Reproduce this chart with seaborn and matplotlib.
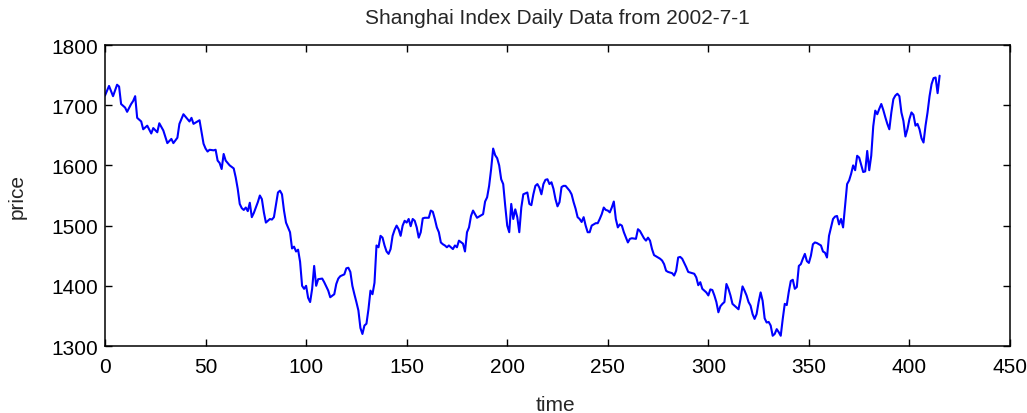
import matplotlib
matplotlib.use("Agg")
import matplotlib.pyplot as plt
import seaborn as sns
import pandas as pd

title = "Shanghai Index Daily Data from 2002-7-1"
x_label = "time"
y_label = "price"
x_ticks = [0, 50, 100, 150, 200, 250, 300, 350, 400, 450]
y_ticks = [1300, 1400, 1500, 1600, 1700, 1800]

days = [0, 2, 4, 6, 7, 8, 10, 11, 13, 14, 15, 16, 18, 19, 21, 23, 24, 26, 27, 29,
        31, 33, 34, 36, 37, 39, 40, 42, 43, 44, 46, 47, 48, 49, 50, 51, 52, 54, 55, 56,
        57, 58, 59, 60, 62, 64, 65, 66, 67, 68, 69, 70, 71, 72, 73, 74, 76, 77, 78, 79,
        80, 82, 83, 84, 86, 87, 88, 89, 90, 92, 93, 94, 95, 96, 97, 98, 99, 100, 101, 102,
        103, 104, 105, 106, 108, 109, 111, 112, 114, 115, 116, 117, 119, 120, 121, 122, 123, 124, 125, 126,
        127, 128, 129, 130, 131, 132, 133, 134, 135, 136, 137, 138, 139, 140, 141, 142, 143, 144, 145, 146,
        147, 148, 149, 150, 151, 152, 153, 154, 155, 156, 157, 158, 159, 161, 162, 163, 164, 165, 166, 167,
        168, 169, 170, 171, 173, 174, 175, 176, 178, 179, 180, 181, 182, 183, 184, 185, 187, 188, 189, 190,
        191, 192, 193, 194, 195, 196, 197, 198, 199, 200, 201, 202, 203, 204, 205, 206, 207, 208, 210, 211,
        212, 213, 214, 215, 216, 217, 218, 219, 220, 221, 222, 223, 224, 225, 226, 227, 228, 229, 231, 232,
        233, 234, 235, 236, 237, 238, 239, 240, 241, 242, 244, 245, 246, 247, 248, 249, 250, 251, 252, 253,
        254, 255, 256, 257, 258, 260, 261, 262, 264, 265, 266, 268, 269, 270, 271, 272, 273, 275, 276, 277,
        278, 279, 280, 282, 283, 284, 285, 286, 287, 289, 290, 291, 293, 294, 295, 296, 297, 298, 299, 300,
        301, 302, 303, 304, 305, 306, 307, 308, 309, 310, 311, 312, 313, 315, 316, 317, 318, 319, 320, 321,
        322, 323, 324, 325, 326, 327, 328, 329, 330, 331, 332, 333, 334, 335, 336, 337, 338, 339, 340, 341,
        342, 343, 344, 345, 346, 347, 348, 349, 350, 351, 352, 353, 354, 356, 357, 358, 359, 360, 361, 362,
        363, 364, 365, 366, 367, 368, 369, 370, 371, 372, 373, 374, 375, 376, 377, 378, 379, 380, 381, 382,
        383, 384, 385, 386, 387, 388, 389, 390, 391, 392, 393, 394, 395, 396, 397, 398, 399, 400, 401, 402,
        403, 404, 405, 406, 407, 408, 409, 410, 411, 412, 413, 414, 415]

prices = [1716, 1732, 1715, 1734, 1731, 1702, 1696, 1689, 1702, 1707, 1715, 1679, 1673, 1660, 1666, 1653, 1662, 1655, 1670, 1658,
          1637, 1644, 1637, 1646, 1669, 1685, 1681, 1673, 1679, 1669, 1673, 1675, 1655, 1636, 1628, 1623, 1626, 1625, 1626, 1608,
          1604, 1594, 1619, 1608, 1600, 1595, 1580, 1561, 1536, 1529, 1526, 1530, 1524, 1538, 1514, 1521, 1539, 1550, 1544, 1522,
          1505, 1511, 1510, 1514, 1555, 1558, 1552, 1525, 1505, 1489, 1462, 1465, 1457, 1460, 1440, 1400, 1395, 1400, 1380, 1373,
          1395, 1433, 1400, 1411, 1412, 1406, 1392, 1381, 1386, 1403, 1412, 1416, 1419, 1429, 1430, 1423, 1400, 1386, 1373, 1359,
          1330, 1320, 1334, 1337, 1361, 1392, 1386, 1405, 1467, 1464, 1483, 1480, 1467, 1457, 1453, 1461, 1483, 1493, 1500, 1494,
          1483, 1500, 1508, 1505, 1511, 1499, 1511, 1508, 1497, 1480, 1489, 1512, 1513, 1513, 1525, 1523, 1511, 1497, 1489, 1472,
          1469, 1467, 1464, 1467, 1461, 1467, 1464, 1475, 1470, 1457, 1489, 1497, 1516, 1525, 1519, 1513, 1517, 1519, 1540, 1547,
          1566, 1594, 1628, 1617, 1612, 1600, 1577, 1569, 1533, 1500, 1489, 1536, 1511, 1527, 1514, 1489, 1530, 1552, 1555, 1536,
          1534, 1552, 1566, 1569, 1563, 1552, 1569, 1576, 1577, 1569, 1572, 1561, 1544, 1532, 1539, 1564, 1566, 1566, 1558, 1552,
          1539, 1528, 1514, 1511, 1506, 1514, 1500, 1489, 1489, 1500, 1504, 1504, 1511, 1519, 1530, 1526, 1525, 1522, 1530, 1540,
          1511, 1497, 1502, 1500, 1489, 1472, 1478, 1479, 1478, 1494, 1491, 1479, 1475, 1480, 1475, 1461, 1451, 1447, 1445, 1442,
          1436, 1425, 1423, 1421, 1417, 1425, 1447, 1448, 1445, 1431, 1423, 1422, 1420, 1414, 1401, 1406, 1395, 1392, 1389, 1384,
          1394, 1393, 1384, 1373, 1356, 1366, 1370, 1373, 1403, 1395, 1384, 1370, 1367, 1361, 1378, 1399, 1392, 1384, 1373, 1367,
          1353, 1345, 1353, 1373, 1389, 1375, 1346, 1339, 1340, 1334, 1317, 1320, 1328, 1323, 1317, 1345, 1370, 1368, 1390, 1408,
          1410, 1395, 1398, 1433, 1436, 1445, 1453, 1441, 1438, 1450, 1469, 1472, 1471, 1467, 1457, 1455, 1447, 1483, 1497, 1511,
          1515, 1516, 1502, 1511, 1497, 1533, 1569, 1575, 1586, 1600, 1592, 1616, 1613, 1601, 1589, 1590, 1624, 1592, 1616, 1665,
          1691, 1685, 1694, 1702, 1692, 1680, 1669, 1660, 1688, 1710, 1716, 1719, 1715, 1688, 1674, 1648, 1660, 1677, 1688, 1684,
          1666, 1669, 1660, 1645, 1638, 1666, 1688, 1715, 1735, 1745, 1746, 1720, 1749]

df = pd.DataFrame({"time": days, "price": prices})

sns.set_style("ticks")
plt.rcParams["font.family"] = ["Liberation Sans", "DejaVu Sans"]
plt.rcParams["font.size"] = 15

fig = plt.figure(figsize=(10.27, 4.14), dpi=100)
ax = fig.add_axes([105 / 1027, (414 - 347) / 414, (1010 - 105) / 1027, (347 - 46) / 414])

sns.lineplot(data=df, x="time", y="price", ax=ax, color="#0000FF", linewidth=1.5)

ax.set_xlim(0, 450)
ax.set_ylim(1300, 1800)
ax.set_xticks(x_ticks)
ax.set_yticks(y_ticks)
ax.tick_params(direction="in", length=5, width=1, top=True, right=True,
               labelsize=15, colors="black")
ax.tick_params(axis="x", pad=8)
ax.tick_params(axis="y", pad=5)
for s in ax.spines.values():
    s.set_visible(True)
    s.set_linewidth(1.1)
    s.set_color("black")

ax.set_title(title, fontsize=15, pad=16)
ax.set_xlabel(x_label, fontsize=15)
ax.set_ylabel(y_label, fontsize=15)
ax.xaxis.set_label_coords((555 - 105) / 905, (347 - 396) / 301)
ax.yaxis.set_label_coords((27 - 105) / 905, 0.5)

fig.savefig("out.png", dpi=100)
